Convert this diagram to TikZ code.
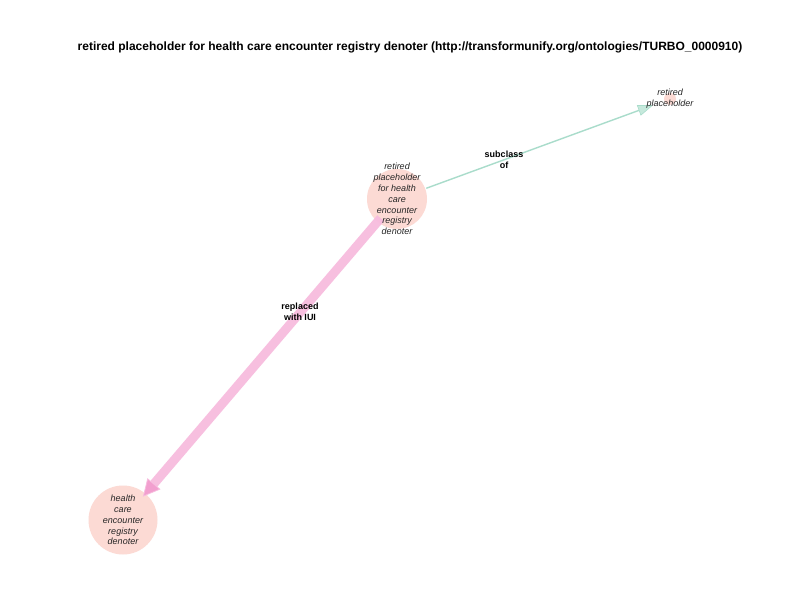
\documentclass[tikz,border=0pt]{standalone}
\usepackage{fontspec}
\setmainfont{Liberation Sans}
\usetikzlibrary{arrows.meta}
\definecolor{nodefill}{HTML}{FCDAD4}
\definecolor{subedge}{HTML}{A9DCCB}
\definecolor{subhead}{HTML}{C6E9DC}
\definecolor{repedge}{HTML}{F7BCDE}
\definecolor{rephead}{HTML}{F29ACD}
\tikzset{
  ent/.style={circle, fill=nodefill, draw=none, inner sep=0pt},
  enttext/.style={font=\fontsize{9}{10.8}\selectfont\itshape, align=center, text=black!85},
  edgelabel/.style={font=\fontsize{9}{10.7}\selectfont\bfseries, align=center, text=black},
}
\begin{document}
\begin{tikzpicture}[x=1pt,y=-1pt]
\useasboundingbox (0,0) rectangle (792,612);
\fill[white] (0,0) rectangle (792,612);
\node[font=\fontsize{12}{14}\selectfont\bfseries] (title) at (410,47) {retired placeholder for health care encounter registry denoter (http://transformunify.org/ontologies/TURBO\_0000910)};
% circles
\node[ent, minimum size=60pt] (A) at (397,199) {};
\node[ent, minimum size=12pt] (B) at (670,99) {};
\node[ent, minimum size=69pt] (C) at (123,520) {};
% edges
\draw[subedge, line width=1.4pt, -{Triangle[length=15pt,width=11pt,fill=subhead,color=subedge,line width=0.6pt]}, shorten <=1pt, shorten >=12pt] (A) -- (B);
\draw[repedge, line width=9pt, opacity=0.95, -{Triangle[length=17pt,width=17pt,fill=rephead,color=repedge,line width=0.8pt]}, shorten <=-5pt, shorten >=-4pt] (A) -- (C);
% texts
\node[enttext] (At) at (A) {retired\\placeholder\\for health\\care\\encounter\\registry\\denoter};
\node[enttext] (Bt) at (B) {retired\\placeholder};
\node[enttext] (Ct) at (C) {health\\care\\encounter\\registry\\denoter};
\node[edgelabel] (l1) at (504,160) {subclass\\of};
\node[edgelabel] (l2) at (300,312) {replaced\\with IUI};
\end{tikzpicture}
\end{document}
